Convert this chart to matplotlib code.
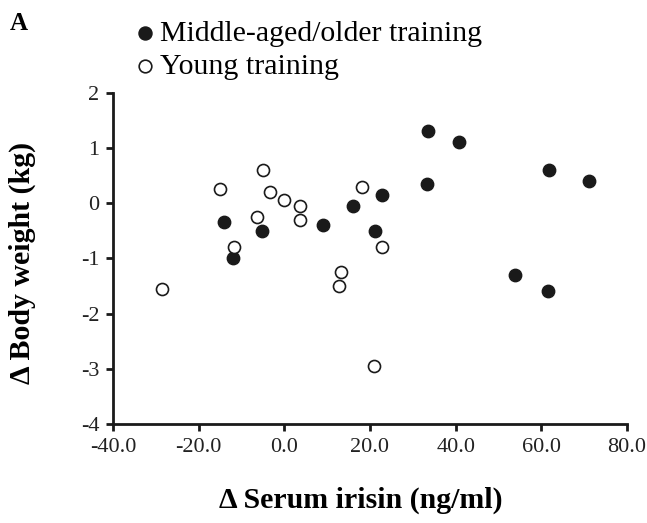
import matplotlib.pyplot as plt

plt.rcParams['font.family'] = ['Liberation Serif', 'DejaVu Serif']
plt.rcParams['axes.unicode_minus'] = False

# change in serum irisin (ng/ml) vs change in body weight (kg)
older_irisin = [-14.0, -5.1, -12.0, 9.0, 16.1, 22.7, 21.1, 33.5, 40.8, 33.2, 61.8, 71.2, 53.9, 61.5]
older_weight = [-0.35, -0.5, -1.0, -0.4, -0.05, 0.15, -0.5, 1.3, 1.1, 0.35, 0.6, 0.4, -1.3, -1.6]

young_irisin = [-15.0, -5.0, -3.3, 0.0, 3.6, 3.6, -6.3, -11.8, -28.6, 18.2, 13.2, 12.8, 20.9, 22.8]
young_weight = [0.25, 0.6, 0.2, 0.05, -0.05, -0.3, -0.25, -0.8, -1.55, 0.3, -1.25, -1.5, -2.95, -0.8]

xticks = [-40, -20, 0, 20, 40, 60, 80]
yticks = [-4, -3, -2, -1, 0, 1, 2]

fig = plt.figure(figsize=(6.47, 5.23), dpi=100)
ax = fig.add_axes([0.1747, 0.1893, 0.7943, 0.6335])

ax.scatter(older_irisin, older_weight, s=80, color='#1a1a1a', edgecolor='#1a1a1a',
           linewidth=1, zorder=3, label='Middle-aged/older training')
ax.scatter(young_irisin, young_weight, s=75, facecolor='white', edgecolor='#1a1a1a',
           linewidth=1.2, zorder=3, label='Young training')

ax.set_xlim(-40, 80)
ax.set_ylim(-4, 2)
ax.set_xticks(xticks)
ax.set_xticklabels(['%.1f' % v for v in xticks])
ax.set_yticks(yticks)

for side in ['top', 'right']:
    ax.spines[side].set_visible(False)
for side in ['left', 'bottom']:
    ax.spines[side].set_linewidth(2)
    ax.spines[side].set_color('#1a1a1a')
ax.tick_params(direction='out', length=5, width=2, color='#1a1a1a',
               labelsize=16, labelcolor='#222222', pad=5)

ax.set_xlabel('Δ Serum irisin (ng/ml)', fontsize=21.5, fontweight='bold')
ax.set_ylabel('Δ Body weight (kg)', fontsize=21.5, fontweight='bold')
ax.xaxis.set_label_coords(0.483, -0.19)
ax.yaxis.set_label_coords(-0.15, 0.486)

ax.legend(loc='upper left', bbox_to_anchor=(0.187, 0.985), bbox_transform=fig.transFigure,
          frameon=False, fontsize=21.5, handlelength=0.8, handletextpad=0.1,
          labelspacing=0.2, borderaxespad=0.0, markerscale=1.05)

fig.text(0.015, 0.978, 'A', fontsize=18, fontweight='bold', va='top', ha='left')

fig.savefig('out.png', dpi=100)
